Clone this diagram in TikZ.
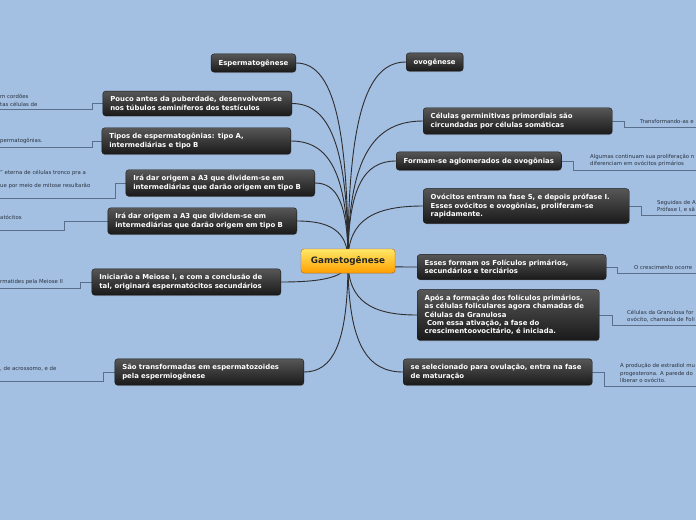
\documentclass[tikz,border=0pt]{standalone}
\usepackage{fontspec}
\setsansfont{DejaVu Sans}
\usetikzlibrary{backgrounds,calc,shadows}
\definecolor{bgblue}{HTML}{A3BFE2}
\definecolor{linkgray}{HTML}{2E2E2E}
\definecolor{sublinecol}{HTML}{5A6F8C}
\definecolor{notetext}{HTML}{2A3440}
\tikzset{
  topic/.style={draw=black!90, rounded corners=3pt, top color=black!66, bottom color=black!90,
    text=white, font=\sffamily\bfseries\fontsize{6.9}{8.3}\selectfont, align=left,
    inner xsep=7.5pt, inner ysep=5.6pt,
    drop shadow={shadow xshift=0.4pt, shadow yshift=-0.9pt, opacity=0.35}},
  wide/.style={text width=174pt},
  central/.style={draw=orange!80!black, rounded corners=3pt, top color=yellow!70!orange!60, bottom color=orange!75!yellow,
    text=black!85, font=\sffamily\bfseries\fontsize{8.8}{10}\selectfont,
    minimum width=94pt, minimum height=24pt,
    drop shadow={shadow xshift=0.4pt, shadow yshift=-0.9pt, opacity=0.3}},
  note/.style={text=notetext, font=\sffamily\fontsize{5.4}{7.4}\selectfont, align=left, inner sep=0pt},
  link/.style={draw=linkgray, line width=0.9pt},
  subline/.style={draw=sublinecol, line width=0.8pt}
}
\begin{document}
\begin{tikzpicture}[x=1pt,y=-1pt,line cap=round,line join=round]
  \useasboundingbox (0,0) rectangle (696,520);
  % central topic
  \node[central] (gam) at (348,261) {Gametogênese};
  % espermatogenese side
  \node[topic,anchor=east] (l1) at (296,63) {Espermatogênese};
  \node[topic,wide,anchor=east] (l2) at (292,103.5) {Pouco antes da puberdade, desenvolvem-se\\nos túbulos seminíferos dos testículos};
  \node[topic,wide,anchor=east] (l3) at (291,141) {Tipos de espermatogônias: tipo A,\\intermediárias e tipo B};
  \node[topic,wide,anchor=east] (l4) at (315,183) {Irá dar origem a A3 que dividem-se em\\intermediárias que darão origem em tipo B};
  \node[topic,wide,anchor=east] (l5) at (297,221) {Irá dar origem a A3 que dividem-se em\\intermediárias que darão origem em tipo B};
  \node[topic,wide,anchor=east] (l6) at (281,282) {Iniciarão a Meiose I, e com a conclusão de\\tal, originará espermatócitos secundários};
  \node[topic,wide,anchor=east] (l7) at (304,372) {São transformadas em espermatozoides\\pela espermiogênese};
  % ovogenese side
  \node[topic,anchor=west] (r1) at (406,62) {ovogênese};
  \node[topic,wide,anchor=west] (r2) at (423,121) {Células germinitivas primordiais são\\circundadas por células somáticas};
  \node[topic,anchor=west] (r3) at (396,161) {Formam-se aglomerados de ovogônias};
  \node[topic,anchor=west,text width=191pt] (r4) at (423,206) {Ovócitos entram na fase S, e depois prófase I.\\Esses ovócitos e ovogônias, proliferam-se\\rapidamente.};
  \node[topic,wide,anchor=west] (r5) at (417,267) {Esses formam os Folículos primários,\\secundários e terciários};
  \node[topic,anchor=west,text width=167pt] (r6) at (417,315) {Após a formação dos folículos primários,\\as células foliculares agora chamadas de\\Células da Granulosa\\\ Com essa ativação, a fase do\\crescimentoovocitário, é iniciada.};
  \node[topic,wide,anchor=west] (r7) at (403,372) {se selecionado para ovulação, entra na fase\\de maturação};
  % notes
  \node[note,anchor=west] (l2note) at (0,100.5) {m cordões\\tas células de};
  \node[note,anchor=west] (l3note) at (0,141) {permatogônias.};
  \node[note,anchor=west] (l4note) at (0,179.5) {\textquotedblright\ eterna de células tronco pra a\\[5pt]ue por meio de mitose resultarão};
  \node[note,anchor=west] (l5note) at (0,217) {atócitos};
  \node[note,anchor=west] (l6note) at (0,282) {rmatides pela Meiose II};
  \node[note,anchor=west] (l7note) at (0,369) {, de acrossomo, e de};
  \node[note,anchor=west] (r2note) at (640,121) {Transformando-as e};
  \node[note,anchor=west] (r3note) at (590,160.5) {Algumas continuam sua proliferação n\\diferenciam em ovócitos primários};
  \node[note,anchor=west] (r4note) at (657,206) {Seguidas de A\\Prófase I, e sã};
  \node[note,anchor=west] (r5note) at (634,267) {O crescimento ocorre};
  \node[note,anchor=west] (r6note) at (627,316) {Células da Granulosa for\\ovócito, chamada de Foli};
  \node[note,anchor=west] (r7note) at (620,373) {A produção de estradiol mu\\progesterona. A parede do\\liberar o ovócito.};
  \coordinate (l2end) at (0,109);
  \coordinate (l3end) at (0,147);
  \coordinate (l4end) at (0,198);
  \coordinate (l5end) at (0,230);
  \coordinate (l6end) at (0,288);
  \coordinate (l7end) at (0,381);
  \coordinate (r2end) at (696,127);
  \coordinate (r3end) at (696,170);
  \coordinate (r4end) at (696,215);
  \coordinate (r5end) at (696,273);
  \coordinate (r6end) at (696,325);
  \coordinate (r7end) at (696,386);
  \begin{pgfonlayer}{background}
    \fill[bgblue] (0,0) rectangle (696,520);
    \foreach \n in {l1,l2,l3,l4,l5,l6,l7}
      \draw[link] (gam.center) .. controls ($(gam.center)!0.75!(gam.center |- \n.east)$) and ($(\n.east)!0.65!(gam.center |- \n.east)$) .. (\n.east);
    \foreach \n in {r1,r2,r3,r4,r5,r6,r7}
      \draw[link] (gam.center) .. controls ($(gam.center)!0.75!(gam.center |- \n.west)$) and ($(\n.west)!0.65!(gam.center |- \n.west)$) .. (\n.west);
    \draw[subline] (l2.west) -- ++(-10,0) |- (l2end);
    \draw[subline] (l3.west) -- ++(-9,0) |- (l3end);
    \draw[subline] (l4.west) -- ++(-10,0) |- (l4end);
    \draw[subline] (l5.west) -- ++(-43,0) |- (l5end);
    \draw[subline] (l6.west) -- ++(-11,0) |- (l6end);
    \draw[subline] (l7.west) -- ++(-11,0) |- (l7end);
    \draw[subline] (r2.east) -- ++(12,0) |- (r2end);
    \draw[subline] (r3.east) -- ++(12,0) |- (r3end);
    \draw[subline] (r4.east) -- ++(12,0) |- (r4end);
    \draw[subline] (r5.east) -- ++(11,0) |- (r5end);
    \draw[subline] (r6.east) -- ++(13,0) |- (r6end);
    \draw[subline] (r7.east) -- ++(12,0) |- (r7end);
  \end{pgfonlayer}
\end{tikzpicture}
\end{document}
